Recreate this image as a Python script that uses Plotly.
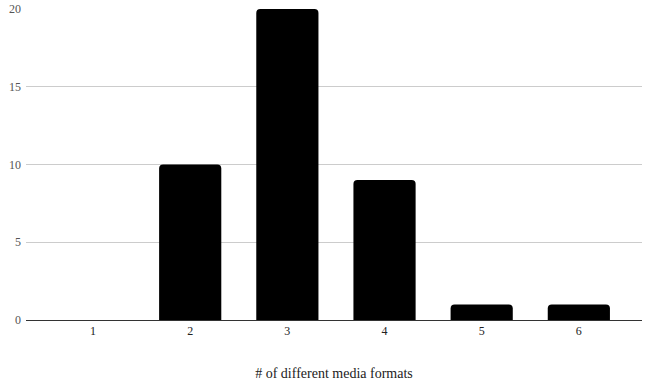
import plotly.graph_objects as go

categories = [1, 2, 3, 4, 5, 6]
values = [0, 10, 20, 9, 1, 1]
y_ticks = [0, 5, 10, 15, 20]
x_title = "# of different media formats"

SERIF = "'Liberation Serif', 'Times New Roman', serif"

fig = go.Figure()
fig.add_trace(go.Bar(
    x=categories, y=values, width=0.64,
    marker=dict(color="#000000", line=dict(width=0), cornerradius=4),
))
fig.update_layout(
    width=648, height=383,
    margin=dict(l=26, r=6, t=9, b=63, autoexpand=False),
    paper_bgcolor="white", plot_bgcolor="white",
    font=dict(family=SERIF, size=12, color="#222222"),
    showlegend=False,
    xaxis=dict(
        range=[0.31, 6.65], tickmode="array", tickvals=categories,
        ticktext=[str(c) for c in categories],
        showgrid=False, zeroline=False, showline=True, linecolor="#333333", linewidth=1,
        ticks="", tickfont=dict(family=SERIF, size=12, color="#222222"),
        title=dict(text=x_title, font=dict(family=SERIF, size=14, color="#222222"), standoff=30),
        automargin=False,
    ),
    yaxis=dict(
        range=[0, 20], tickmode="array", tickvals=y_ticks,
        showgrid=True, gridcolor="#cccccc", gridwidth=1, zeroline=False,
        ticks="", tickfont=dict(family=SERIF, size=12, color="#555555"), ticklabelstandoff=4,
        automargin=False,
    ),
)
fig.write_html("out.html")
